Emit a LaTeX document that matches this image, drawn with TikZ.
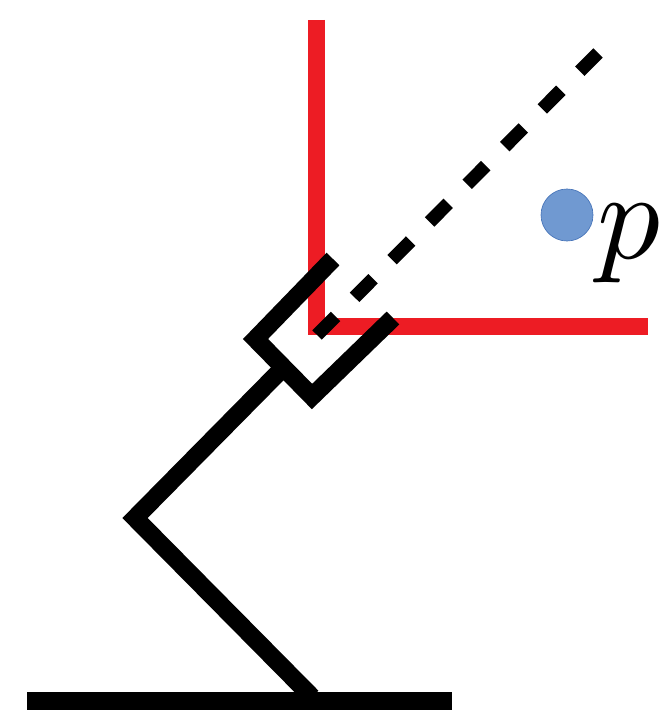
\documentclass[tikz,border=0pt]{standalone}
\usepackage{xcolor}
\usepackage{tikz}
\definecolor{framered}{rgb}{0.93,0.11,0.14}
\definecolor{pointblue}{rgb}{0.44,0.60,0.82}
\definecolor{pointedge}{rgb}{0.27,0.45,0.72}
\tikzset{
    armline/.style={draw=black,line width=13.5pt},
    frameline/.style={draw=framered,line width=12.75pt},
    rayline/.style={draw=black,line width=10pt,dash pattern=on 19.7pt off 20.2pt},
    pointdot/.style={circle,fill=pointblue,draw=pointedge,line width=0.5pt,minimum size=39pt,inner sep=0pt}
}
\begin{document}
\begin{tikzpicture}[x=0.75pt,y=0.75pt,yscale=-1,xscale=1]
    \useasboundingbox (0,0) rectangle (664,723);
    % red frame
    \draw [frameline] (316.5,20) -- (316.5,326) -- (648,326) ;
    % base and links
    \draw [armline] (27,701) -- (452,701) ;
    \draw [armline] (312,697) -- (135,518) -- (283,368) ;
    % gripper
    \draw [armline] (333,259) -- (255.5,339) -- (312,396.5) -- (393,318) ;
    % dashed ray
    \draw [rayline] (317,335) -- (598,53) ;
    % target point
    \node [pointdot] (point) at (567,215) {};
    \node [scale=9.4,inner sep=0pt] (label) at (629,244) {$p$};
\end{tikzpicture}
\end{document}
